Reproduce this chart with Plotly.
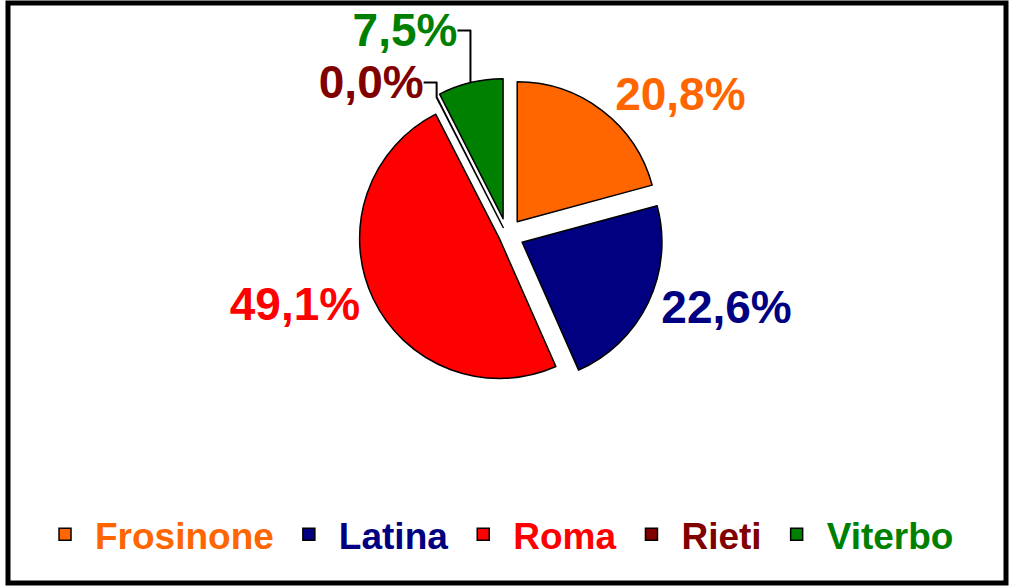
import plotly.graph_objects as go

categories = ["Frosinone", "Latina", "Roma", "Rieti", "Viterbo"]
values = [20.8, 22.6, 49.1, 0.04, 7.5]
pct_labels = ["20,8%", "22,6%", "49,1%", "0,0%", "7,5%"]
colors = ["#FF6600", "#000080", "#FF0000", "#800000", "#008000"]

legend_labels = [f"<span style='color:{c}'>{n}</span>" for n, c in zip(categories, colors)]

FONT = "Liberation Sans, Arial, sans-serif"

fig = go.Figure(go.Pie(
    labels=legend_labels,
    values=values,
    text=pct_labels,
    textinfo="text",
    textposition="outside",
    sort=False,
    direction="clockwise",
    rotation=0,
    pull=[0.12, 0.12, 0.06, 0.06, 0.12],
    marker=dict(colors=colors, line=dict(color="black", width=1.5)),
    outsidetextfont=dict(color=colors, size=46, family=FONT, weight="bold"),
    domain=dict(x=[0.15, 0.85], y=[0.33, 0.87]),
    showlegend=True,
    hoverinfo="label+text",
))

fig.update_layout(
    width=1012, height=588,
    autosize=False,
    margin=dict(l=8, r=6, t=3, b=5, autoexpand=False),
    paper_bgcolor="white",
    plot_bgcolor="white",
    font=dict(family=FONT),
    legend=dict(
        orientation="h", x=0.49, xanchor="center", y=0.03, yanchor="bottom",
        font=dict(size=37, family=FONT, weight="bold"),
        itemwidth=50,
    ),
    shapes=[dict(type="rect", xref="paper", yref="paper", x0=0, y0=0, x1=1, y1=1,
                 line=dict(color="black", width=5), fillcolor="rgba(0,0,0,0)")],
)

fig.write_html("out.html", default_width="1012px", default_height="588px",
               config={"displayModeBar": False},
               post_script="document.body.style.margin='0';document.body.style.padding='0';")
